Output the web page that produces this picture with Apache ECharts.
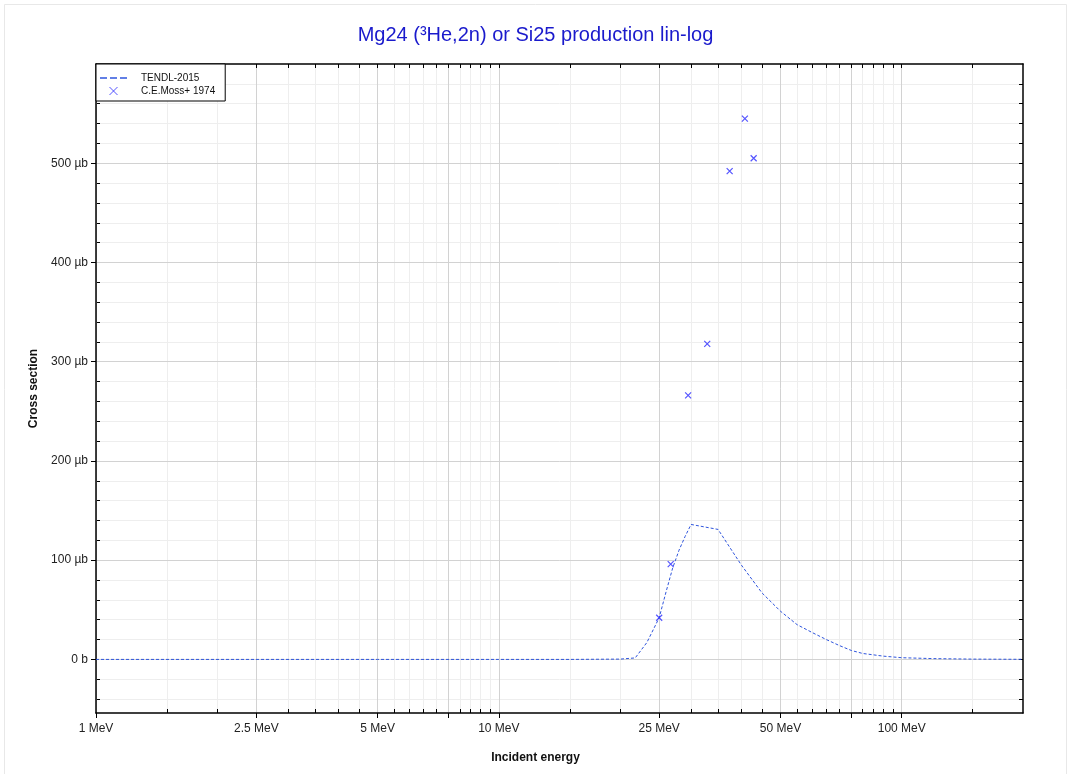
<!DOCTYPE html>
<html><head><meta charset="utf-8">
<script src="https://cdn.jsdelivr.net/npm/echarts@6/dist/echarts.min.js"></script>
<style>html,body{margin:0;padding:0;background:#fff}#c{width:1071px;height:774px}</style>
</head><body><div id="c"></div><script>
// ---- data ----
const energyTENDL = [1, 5, 10, 15, 20, 21.8, 23.3, 25, 26, 27, 28, 29, 30, 35, 40, 45, 50, 55, 60, 65, 70, 75, 80, 90, 100, 120, 150, 200];
const xsTENDL     = [0, 0, 0, 0, 0.3, 1.5, 17, 42, 68, 92, 110, 124, 136, 131, 95, 67, 48.6, 35, 27, 20, 14, 9, 6, 3.3, 1.7, 0.8, 0.3, 0.1];
const energyMoss  = [25.0, 26.7, 29.5, 32.9, 37.4, 40.8, 42.9];
const xsMoss      = [42, 96, 266, 318, 492, 545, 505];

// ---- ticks / labels ----
const xLabelValues = [1, 2.5, 5, 10, 25, 50, 100];
const xMajorTicks  = [1, 2.5, 5, 7.5, 10, 25, 50, 75, 100];
const xMinorTicks  = [1.5, 2, 3, 3.5, 4, 4.5, 5.5, 6, 6.5, 7, 8, 8.5, 9, 9.5,
                      15, 20, 30, 35, 40, 45, 55, 60, 65, 70, 80, 85, 90, 95, 150];
const yLabelValues = [0, 100, 200, 300, 400, 500];
const yMajorTicks  = [0, 100, 200, 300, 400, 500];
const yMinorTicks  = [-40, -20, 20, 40, 60, 80, 120, 140, 160, 180, 220, 240, 260, 280,
                      320, 340, 360, 380, 420, 440, 460, 480, 520, 540, 560, 580];

const FONT = 'Liberation Sans, Arial, sans-serif';
const X_MIN = 1, X_MAX = 200, Y_MIN = -54, Y_MAX = 600;
const xAll = xMajorTicks.concat(xMinorTicks);
const yAll = yMajorTicks.concat(yMinorTicks);

const tendl = energyTENDL.map((e, i) => [e, xsTENDL[i]]);
const moss = energyMoss.map((e, i) => [e, xsMoss[i]]);

const chart = echarts.init(document.getElementById('c'), null, {renderer: 'canvas'});
const blackLine = {show: true, onZero: false, lineStyle: {color: '#000', width: 1.5}};
const tickStyle = {color: '#000', width: 1};
const LINE_COLOR = '#2f55dd';
const MARK_COLOR = '#2b2bff';

chart.setOption({
  animation: false,
  backgroundColor: '#fff',
  graphic: [{type: 'rect', shape: {x: 4.5, y: 4.5, width: 1062, height: 800}, style: {fill: 'none', stroke: '#e8e8e8', lineWidth: 1}, silent: true, z: -10}],
  title: [
    {text: 'Mg24 (³He,2n) or Si25 production lin-log', left: 'center', top: 25, padding: 0,
     textStyle: {color: '#1a1acc', fontSize: 20, fontWeight: 'normal', fontFamily: FONT}},
    {text: 'Incident energy', left: 'center', top: 752, padding: 0,
     textStyle: {color: '#111', fontSize: 12, fontWeight: 'bold', fontFamily: FONT}}
  ],
  legend: {
    left: 96, top: 64, orient: 'vertical', backgroundColor: '#fff', borderColor: '#000', borderWidth: 1,
    borderRadius: 0, padding: [9, 10, 5, 4], itemGap: 3, itemWidth: 27, itemHeight: 8,
    textStyle: {fontSize: 10, color: '#111', fontFamily: FONT, padding: [0, 0, 0, 9]},
    data: [
      {name: 'TENDL-2015', icon: 'path://M0,0h7v1.6h-7z M10,0h7v1.6h-7z M20,0h7v1.6h-7z',
       itemStyle: {color: LINE_COLOR, borderWidth: 0}},
      {name: 'C.E.Moss+ 1974', icon: 'path://M0,0L10,10M10,0L0,10',
       itemStyle: {color: 'rgba(0,0,0,0)', borderColor: MARK_COLOR, borderWidth: 1}}
    ]
  },
  grid: {left: 96, right: 48, top: 64, bottom: 61, containLabel: false},
  xAxis: [
    {type: 'log', logBase: 10, min: X_MIN, max: X_MAX, position: 'bottom', z: 3,
     axisLine: blackLine,
     axisTick: {show: true, inside: false, length: 5, customValues: xMajorTicks, lineStyle: tickStyle},
     axisLabel: {show: true, customValues: xLabelValues, formatter: v => v + ' MeV', margin: 10,
                 fontSize: 12, color: '#222', fontFamily: FONT},
     splitLine: {show: true, lineStyle: {color: '#d2d2d2', width: 1}}, minorTick: {show: false}, minorSplitLine: {show: false}},
    {type: 'log', logBase: 10, min: X_MIN, max: X_MAX, position: 'bottom', z: 1,
     axisLine: {show: false, onZero: false},
     axisTick: {show: true, inside: true, length: 4, customValues: xAll, lineStyle: tickStyle},
     axisLabel: {show: false},
     splitLine: {show: true, lineStyle: {color: '#eeeeee', width: 1}}},
    {type: 'log', logBase: 10, min: X_MIN, max: X_MAX, position: 'top', z: 3,
     axisLine: blackLine,
     axisTick: {show: true, inside: true, length: 4, customValues: xAll, lineStyle: tickStyle},
     axisLabel: {show: false}, splitLine: {show: false}}
  ],
  yAxis: [
    {type: 'value', min: Y_MIN, max: Y_MAX, position: 'left', z: 3,
     axisLine: blackLine,
     axisTick: {show: true, inside: false, length: 5, customValues: yMajorTicks, lineStyle: tickStyle},
     axisLabel: {show: true, customValues: yLabelValues, formatter: v => (v === 0 ? '0 b' : v + ' µb'),
                 margin: 8, fontSize: 12, color: '#222', fontFamily: FONT},
     splitLine: {show: true, lineStyle: {color: '#d2d2d2', width: 1}},
     name: 'Cross section', nameLocation: 'middle', nameGap: 49, nameRotate: 90,
     nameTextStyle: {fontSize: 12, fontWeight: 'bold', color: '#111', fontFamily: FONT}},
    {type: 'value', min: Y_MIN, max: Y_MAX, position: 'left', z: 1,
     axisLine: {show: false, onZero: false},
     axisTick: {show: true, inside: true, length: 4, customValues: yAll, lineStyle: tickStyle},
     axisLabel: {show: false},
     splitLine: {show: true, lineStyle: {color: '#eeeeee', width: 1}}},
    {type: 'value', min: Y_MIN, max: Y_MAX, position: 'right', z: 3,
     axisLine: blackLine,
     axisTick: {show: true, inside: true, length: 4, customValues: yAll, lineStyle: tickStyle},
     axisLabel: {show: false}, splitLine: {show: false}}
  ],
  series: [
    {name: 'TENDL-2015', type: 'line', xAxisIndex: 0, yAxisIndex: 0, data: tendl,
     symbol: 'none', smooth: false, z: 5,
     lineStyle: {color: LINE_COLOR, width: 1, type: [3, 2]}, itemStyle: {color: LINE_COLOR}},
    {name: 'C.E.Moss+ 1974', type: 'scatter', xAxisIndex: 0, yAxisIndex: 0, data: moss,
     symbol: 'path://M0,0L10,10M10,0L0,10', symbolSize: 6, z: 6,
     itemStyle: {color: 'rgba(0,0,0,0)', borderColor: MARK_COLOR, borderWidth: 1.2}}
  ]
});
</script></body></html>
